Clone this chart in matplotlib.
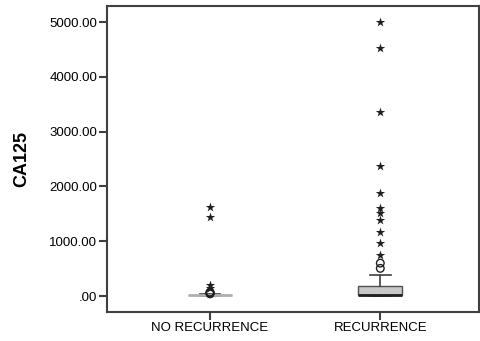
import numpy as np
import matplotlib.pyplot as plt
from matplotlib.ticker import FuncFormatter

plt.rcParams['font.family'] = ['Liberation Sans', 'DejaVu Sans']

groups = ['NO RECURRENCE', 'RECURRENCE']

# box statistics
q1 = [15, 10]
median = [20, 22]
q3 = [25, 185]
whislo = [5, 5]
whishi = [35, 385]

# circles (mild outliers) and stars (extreme outliers)
mild = [[40, 48, 55, 62, 70], [505, 600]]
extreme = [[150, 200, 1440, 1620],
           [750, 960, 1170, 1390, 1510, 1600, 1880, 2380, 3360, 4520, 5000]]

edge = '#404040'
stats = []
for i, g in enumerate(groups):
    stats.append(dict(label=g, q1=q1[i], med=median[i], q3=q3[i],
                      whislo=whislo[i], whishi=whishi[i], fliers=[]))

fig, ax = plt.subplots(figsize=(4.8, 3.41), dpi=100)
fig.subplots_adjust(left=0.223, right=0.998, top=0.982, bottom=0.085)

parts = ax.bxp(stats, positions=[1, 2], widths=0.26, patch_artist=True, showfliers=False,
               boxprops=dict(facecolor='#c8c8c8', edgecolor='#505050', linewidth=1),
               medianprops=dict(color='#202020', linewidth=2),
               whiskerprops=dict(color=edge, linewidth=1.2),
               capprops=dict(color=edge, linewidth=1.2), capwidths=0.12)
# the flat box of the first group shows up as a light grey line
parts['medians'][0].set_color('#b0b0b0')
parts['boxes'][0].set_edgecolor('#b0b0b0')

for i in range(len(groups)):
    ax.scatter([i + 1] * len(mild[i]), mild[i], s=30, marker='o',
               facecolors='none', edgecolors='#202020', linewidths=1, zorder=3)
    ax.scatter([i + 1] * len(extreme[i]), extreme[i], s=50, marker='*',
               color='#202020', linewidths=0, zorder=3)

ax.set_xlim(0.395, 2.58)
ax.set_ylim(-292, 5292)
ax.set_yticks([0, 1000, 2000, 3000, 4000, 5000])
ax.yaxis.set_major_formatter(FuncFormatter(lambda v, p: '.00' if v == 0 else f'{v:.2f}'))
ax.set_xticks([1, 2])
ax.set_xticklabels(groups)

ax.set_ylabel('CA125', fontsize=13, fontweight='bold', labelpad=14)
ax.tick_params(axis='both', labelsize=9.5, color=edge, width=1.5, length=6, pad=1)
for s in ax.spines.values():
    s.set_color(edge)
    s.set_linewidth(1.5)

fig.savefig('out.png', dpi=100)
